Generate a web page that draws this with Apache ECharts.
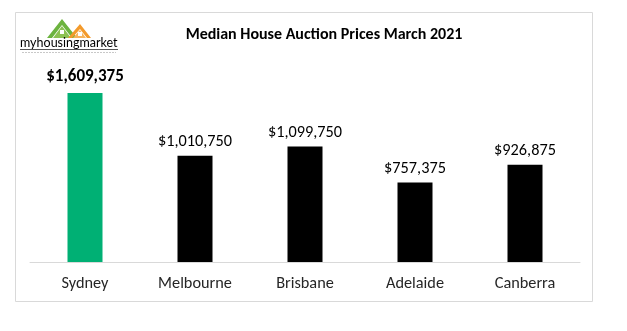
<!DOCTYPE html>
<html>
<head>
<meta charset="utf-8">
<script src="https://cdn.jsdelivr.net/npm/echarts@6/dist/echarts.min.js"></script>
<style>
  html, body { margin: 0; padding: 0; background: #ffffff; }
  #chart { width: 627px; height: 331px; }
</style>
</head>
<body>
<div id="chart"></div>
<script>
// Median house auction prices by capital city, March 2021
const cities = ['Sydney', 'Melbourne', 'Brisbane', 'Adelaide', 'Canberra'];
const prices = [1609375, 1010750, 1099750, 757375, 926875];
const highlightCity = 'Sydney';

const FONT = 'Carlito, Lato, "Open Sans", sans-serif';

function money(v) {
  return '$' + v.toLocaleString('en-US');
}

const chart = echarts.init(document.getElementById('chart'), null, { renderer: 'canvas' });

chart.setOption({
  animation: false,
  backgroundColor: '#ffffff',
  title: {
    text: 'Median House Auction Prices March 2021',
    left: 319,
    top: 22,
    textAlign: 'center',
    textStyle: { fontFamily: FONT, fontSize: 16, fontWeight: 'bold', color: '#000000' }
  },
  grid: { left: 30, right: 47, top: 52, bottom: 69 },
  xAxis: {
    type: 'category',
    data: cities,
    axisLine: { lineStyle: { color: '#d9d9d9', width: 1 } },
    axisTick: { show: false },
    axisLabel: { fontFamily: FONT, fontSize: 16.3, color: '#262626', margin: 14 }
  },
  yAxis: {
    type: 'value',
    min: 0,
    max: 2000000,
    show: false,
    splitLine: { show: false }
  },
  series: [{
    type: 'bar',
    barWidth: 35,
    data: cities.map((c, i) => {
      const hi = c === highlightCity;
      return {
        value: prices[i],
        itemStyle: { color: hi ? '#00b074' : '#000000' },
        label: hi ? { fontWeight: 'bold', fontSize: 17, distance: 8 } : {}
      };
    }),
    label: {
      show: true,
      position: 'top',
      distance: 6,
      fontFamily: FONT,
      fontSize: 16.3,
      color: '#000000',
      formatter: p => money(p.value)
    }
  }],
  graphic: [
    // chart frame
    {
      type: 'rect', silent: true, z: -1,
      shape: { x: 15.5, y: 12.5, width: 577, height: 289 },
      style: { fill: null, stroke: '#d9d9d9', lineWidth: 1 }
    },
    // logo: green roof
    {
      type: 'polygon',
      shape: { points: [[47, 38], [62, 19], [77, 38], [72, 38], [62, 25], [52, 38]] },
      style: { fill: '#6cb33f' }
    },
    // logo: green house body
    {
      type: 'polygon',
      shape: { points: [[53, 38], [62, 26], [71, 38]] },
      style: { fill: '#8cc152' }
    },
    // logo: orange roof
    {
      type: 'polygon',
      shape: { points: [[68, 38], [80, 24], [91, 38], [87, 38], [80, 29], [72, 38]] },
      style: { fill: '#f39a2b' }
    },
    // logo: orange house body
    {
      type: 'polygon',
      shape: { points: [[73, 38], [80, 30], [86, 38]] },
      style: { fill: '#f7b35b' }
    },
    // logo windows
    { type: 'rect', shape: { x: 60, y: 30, width: 4, height: 4 }, style: { fill: '#ffffff' } },
    { type: 'rect', shape: { x: 78, y: 32, width: 4, height: 4 }, style: { fill: '#ffffff' } },
    // logo word mark
    {
      type: 'text', left: 20, top: 36,
      style: {
        text: '{a|my}{b|housing}{a|market}',
        rich: {
          a: { fontFamily: 'Lato, sans-serif', fontSize: 12.5, color: '#444444' },
          b: { fontFamily: 'Lato, sans-serif', fontSize: 12.5, color: '#6cb33f' }
        }
      }
    },
    {
      type: 'line',
      shape: { x1: 20, y1: 49.5, x2: 118, y2: 49.5 },
      style: { stroke: '#555555', lineWidth: 1 }
    },
    {
      type: 'line',
      shape: { x1: 22, y1: 52.5, x2: 116, y2: 52.5 },
      style: { stroke: '#c8c8c8', lineWidth: 1, lineDash: [2, 1] }
    }
  ]
});
</script>
</body>
</html>
